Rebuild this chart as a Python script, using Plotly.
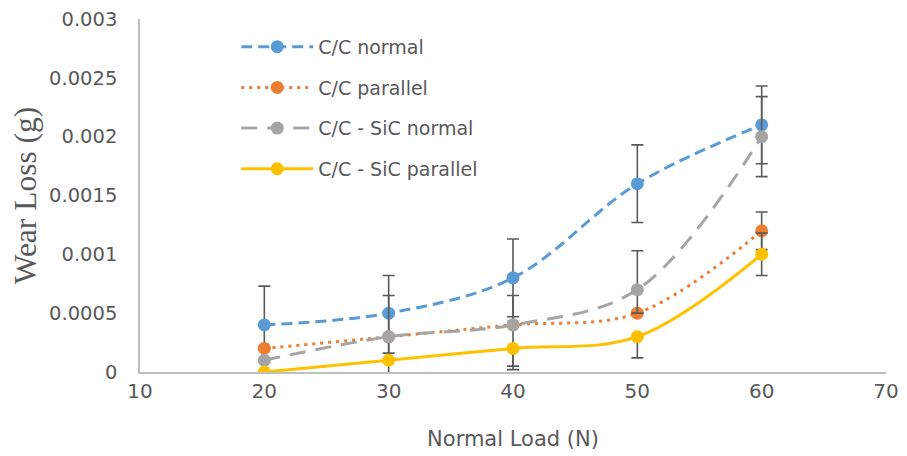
import plotly.graph_objects as go

loads = [20, 30, 40, 50, 60]

cc_normal = [0.0004, 0.0005, 0.0008, 0.0016, 0.0021]
cc_parallel = [0.0002, 0.0003, 0.0004, 0.0005, 0.0012]
ccsic_normal = [0.0001, 0.0003, 0.0004, 0.0007, 0.0020]
ccsic_parallel = [0.0000, 0.0001, 0.0002, 0.0003, 0.0010]

cc_normal_err_plus = [0.00033, 0.00032, 0.00033, 0.00033, 0.00033]
cc_normal_err_minus = [0.00020, 0.00034, 0.00033, 0.00033, 0.00033]
cc_parallel_err_plus = [0.0, 0.0, 0.0, 0.0, 0.00016]
cc_parallel_err_minus = [0.0, 0.0, 0.0, 0.0, 0.00016]
ccsic_normal_err_plus = [0.0, 0.00035, 0.00025, 0.00033, 0.00034]
ccsic_normal_err_minus = [0.0, 0.00035, 0.00035, 0.00020, 0.00034]
ccsic_parallel_err_plus = [0.0, 0.0, 0.0, 0.0, 0.00018]
ccsic_parallel_err_minus = [0.0, 0.0, 0.00018, 0.00018, 0.00018]

y_tick_vals = [0, 0.0005, 0.001, 0.0015, 0.002, 0.0025, 0.003]
y_tick_text = ["0", "0.0005", "0.001", "0.0015", "0.002", "0.0025", "0.003"]
x_tick_vals = [10, 20, 30, 40, 50, 60, 70]

series = [
    ("C/C normal", cc_normal, cc_normal_err_plus, cc_normal_err_minus, "#5B9BD5", "11px,6px"),
    ("C/C parallel", cc_parallel, cc_parallel_err_plus, cc_parallel_err_minus, "#ED7D31", "3px,5px"),
    ("C/C - SiC normal", ccsic_normal, ccsic_normal_err_plus, ccsic_normal_err_minus, "#A5A5A5", "16px,10px"),
    ("C/C - SiC parallel", ccsic_parallel, ccsic_parallel_err_plus, ccsic_parallel_err_minus, "#FFC000", "solid"),
]

TEXT = "#595959"
FONT = "DejaVu Sans"

fig = go.Figure()
for i, (name, ys, ep, em, color, dash) in enumerate(series):
    fig.add_trace(go.Scatter(
        x=loads, y=ys, name=name, mode="lines+markers",
        legendgroup=f"g{i}",
        line=dict(color=color, width=3, dash=dash, shape="spline", smoothing=1),
        marker=dict(color=color, size=13),
        error_y=dict(type="data", symmetric=False, array=ep, arrayminus=em,
                     color="#595959", thickness=1.6, width=6),
    ))

fig.update_layout(
    width=907, height=456,
    margin=dict(l=132, r=29, t=11, b=92, autoexpand=False),
    paper_bgcolor="white", plot_bgcolor="white",
    font=dict(family=FONT, color=TEXT, size=19),
    showlegend=True,
    legend=dict(x=0.129, y=0.975, xanchor="left", yanchor="top",
                font=dict(family=FONT, size=19, color=TEXT),
                bgcolor="rgba(0,0,0,0)", itemwidth=72,
                tracegroupgap=13, traceorder="grouped"),
    xaxis=dict(range=[10, 70], tickvals=x_tick_vals, showgrid=False, zeroline=False,
               showline=True, linecolor="#BFBFBF", linewidth=1.5, automargin=False,
               ticks="", ticklabelstandoff=0, ticklabeloverflow="allow",
               tickfont=dict(family=FONT, size=20, color=TEXT),
               title=dict(text="Normal Load (N)", standoff=30,
                          font=dict(family=FONT, size=21, color=TEXT))),
    yaxis=dict(range=[0, 0.003], tickvals=y_tick_vals, ticktext=y_tick_text,
               showgrid=False, zeroline=False, automargin=False,
               showline=True, linecolor="#BFBFBF", linewidth=1.5,
               ticks="", ticklabelstandoff=17, ticklabeloverflow="allow",
               tickfont=dict(family=FONT, size=19.5, color=TEXT),
               title=dict(text="Wear Loss (g)", standoff=11,
                          font=dict(family="Liberation Serif", size=31.5, color=TEXT))),
)

fig.write_html("out.html")
